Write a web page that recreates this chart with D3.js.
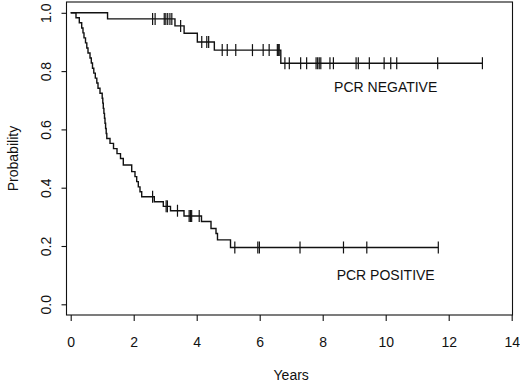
<!DOCTYPE html>
<html>
<head>
<meta charset="utf-8">
<script src="https://cdn.jsdelivr.net/npm/d3@7"></script>
<style>
  html, body { margin: 0; padding: 0; background: #fff; }
  svg { display: block; }
  text { font-family: "Liberation Sans", Arial, Helvetica, sans-serif; fill: #111; }
</style>
</head>
<body>
<svg id="chart" width="520" height="383"></svg>
<script>
// ---- data ----
const xTicks = [0, 2, 4, 6, 8, 10, 12, 14];
const yTicks = [0.0, 0.2, 0.4, 0.6, 0.8, 1.0];
const xLabel = "Years";
const yLabel = "Probability";

// PCR NEGATIVE: event times (years) and survival after each event
const negTimes = [1.17, 3.31, 3.60, 4.02, 4.56, 6.67];
const negSurv  = [0.979, 0.955, 0.930, 0.900, 0.872, 0.827];
const negCensor = [2.60, 2.68, 2.97, 3.02, 3.08, 3.15, 3.21, 3.49,
  4.16, 4.32, 4.38, 4.81, 4.97, 5.24, 5.77, 6.11, 6.30, 6.56, 6.59, 6.62,
  6.80, 6.94, 7.30, 7.49, 7.79, 7.84, 7.89, 7.94, 8.23, 8.34, 9.06, 9.13,
  9.48, 9.95, 10.16, 10.35, 11.65, 13.07];
const negLabel = "PCR NEGATIVE";

// PCR POSITIVE
const posTimes = [0.168, 0.273, 0.349, 0.390, 0.422, 0.470, 0.511, 0.549,
  0.613, 0.654, 0.692, 0.733, 0.781, 0.829, 0.867, 0.930, 1.000, 1.019,
  1.035, 1.054, 1.073, 1.089, 1.108, 1.127, 1.146, 1.248, 1.359, 1.470,
  1.581, 1.670, 1.937, 2.041, 2.095, 2.146, 2.200, 2.254, 2.654, 2.940,
  3.168, 3.597, 4.152, 4.454, 4.613, 4.660, 5.073];
const posSurv = [0.983, 0.966, 0.948, 0.931, 0.914, 0.897, 0.879, 0.862,
  0.845, 0.828, 0.810, 0.793, 0.776, 0.759, 0.741, 0.724, 0.707, 0.690,
  0.672, 0.655, 0.638, 0.621, 0.603, 0.586, 0.569, 0.552, 0.534, 0.517,
  0.500, 0.478, 0.455, 0.438, 0.421, 0.403, 0.386, 0.369, 0.352, 0.336,
  0.321, 0.303, 0.284, 0.260, 0.243, 0.221, 0.195];
const posCensor = [2.60, 3.03, 3.07, 3.39, 3.76, 3.80, 3.84, 4.08, 5.21,
  5.94, 5.99, 7.28, 8.66, 9.40, 11.67];
const posLabel = "PCR POSITIVE";

// ---- layout ----
const box = { left: 66.5, right: 512.5, top: 2, bottom: 315 };
const svg = d3.select("#chart");

const x = d3.scaleLinear().domain([0, 14]).range([70.7, 511.7]);
const y = d3.scaleLinear().domain([0, 1]).range([304.3, 12.8]);

const ink = "#111";

// box
svg.append("rect")
  .attr("x", box.left).attr("y", box.top)
  .attr("width", box.right - box.left).attr("height", box.bottom - box.top)
  .attr("fill", "none").attr("stroke", ink).attr("stroke-width", 1.1);

// x axis
const gx = svg.append("g")
  .attr("transform", `translate(0,${box.bottom})`)
  .call(d3.axisBottom(x).tickValues(xTicks).tickSize(6).tickPadding(16)
        .tickFormat(d3.format("d")));
gx.select(".domain").remove();
gx.selectAll(".tick line").attr("stroke", ink).attr("stroke-width", 1.1);
gx.selectAll(".tick text").attr("font-size", 14).attr("fill", ink)
  .attr("font-family", "Liberation Sans, Arial, sans-serif");

// y axis
const gy = svg.append("g")
  .attr("transform", `translate(${box.left},0)`)
  .call(d3.axisLeft(y).tickValues(yTicks).tickSize(5).tickFormat(""));
gy.select(".domain").remove();
gy.selectAll(".tick line").attr("stroke", ink).attr("stroke-width", 1.1);
gy.selectAll(".tick").append("text")
  .attr("transform", "translate(-16,0) rotate(-90)")
  .attr("text-anchor", "middle")
  .attr("font-size", 14)
  .attr("fill", ink)
  .text(d => d3.format(".1f")(d));

// axis titles
svg.append("text")
  .attr("x", x(7)).attr("y", 380)
  .attr("text-anchor", "middle").attr("font-size", 14)
  .text(xLabel);
svg.append("text")
  .attr("transform", `translate(18,${y(0.5)}) rotate(-90)`)
  .attr("text-anchor", "middle").attr("font-size", 14)
  .text(yLabel);

// survival curves
function stepData(times, surv, censor) {
  const pts = [[0, 1]];
  times.forEach((t, i) => pts.push([t, surv[i]]));
  const end = d3.max(censor.concat(times));
  pts.push([end, surv[surv.length - 1]]);
  return pts;
}
function survAt(times, surv, t) {
  let s = 1;
  times.forEach((tt, i) => { if (tt <= t) s = surv[i]; });
  return s;
}
const line = d3.line().x(d => x(d[0])).y(d => y(d[1])).curve(d3.curveStepAfter);

const groups = [
  { times: negTimes, surv: negSurv, censor: negCensor },
  { times: posTimes, surv: posSurv, censor: posCensor }
];
groups.forEach(g => {
  svg.append("path")
    .datum(stepData(g.times, g.surv, g.censor))
    .attr("d", line)
    .attr("fill", "none").attr("stroke", ink).attr("stroke-width", 1.4);
  svg.append("g").selectAll("line")
    .data(g.censor)
    .join("line")
    .attr("x1", d => x(d)).attr("x2", d => x(d))
    .attr("y1", d => y(survAt(g.times, g.surv, d)) - 6)
    .attr("y2", d => y(survAt(g.times, g.surv, d)) + 6)
    .attr("stroke", ink).attr("stroke-width", 1.2);
});

// curve labels
svg.append("text")
  .attr("x", x(10)).attr("y", y(0.729))
  .attr("text-anchor", "middle").attr("font-size", 14)
  .text(negLabel);
svg.append("text")
  .attr("x", x(10)).attr("y", y(0.083))
  .attr("text-anchor", "middle").attr("font-size", 14)
  .text(posLabel);
</script>
</body>
</html>
